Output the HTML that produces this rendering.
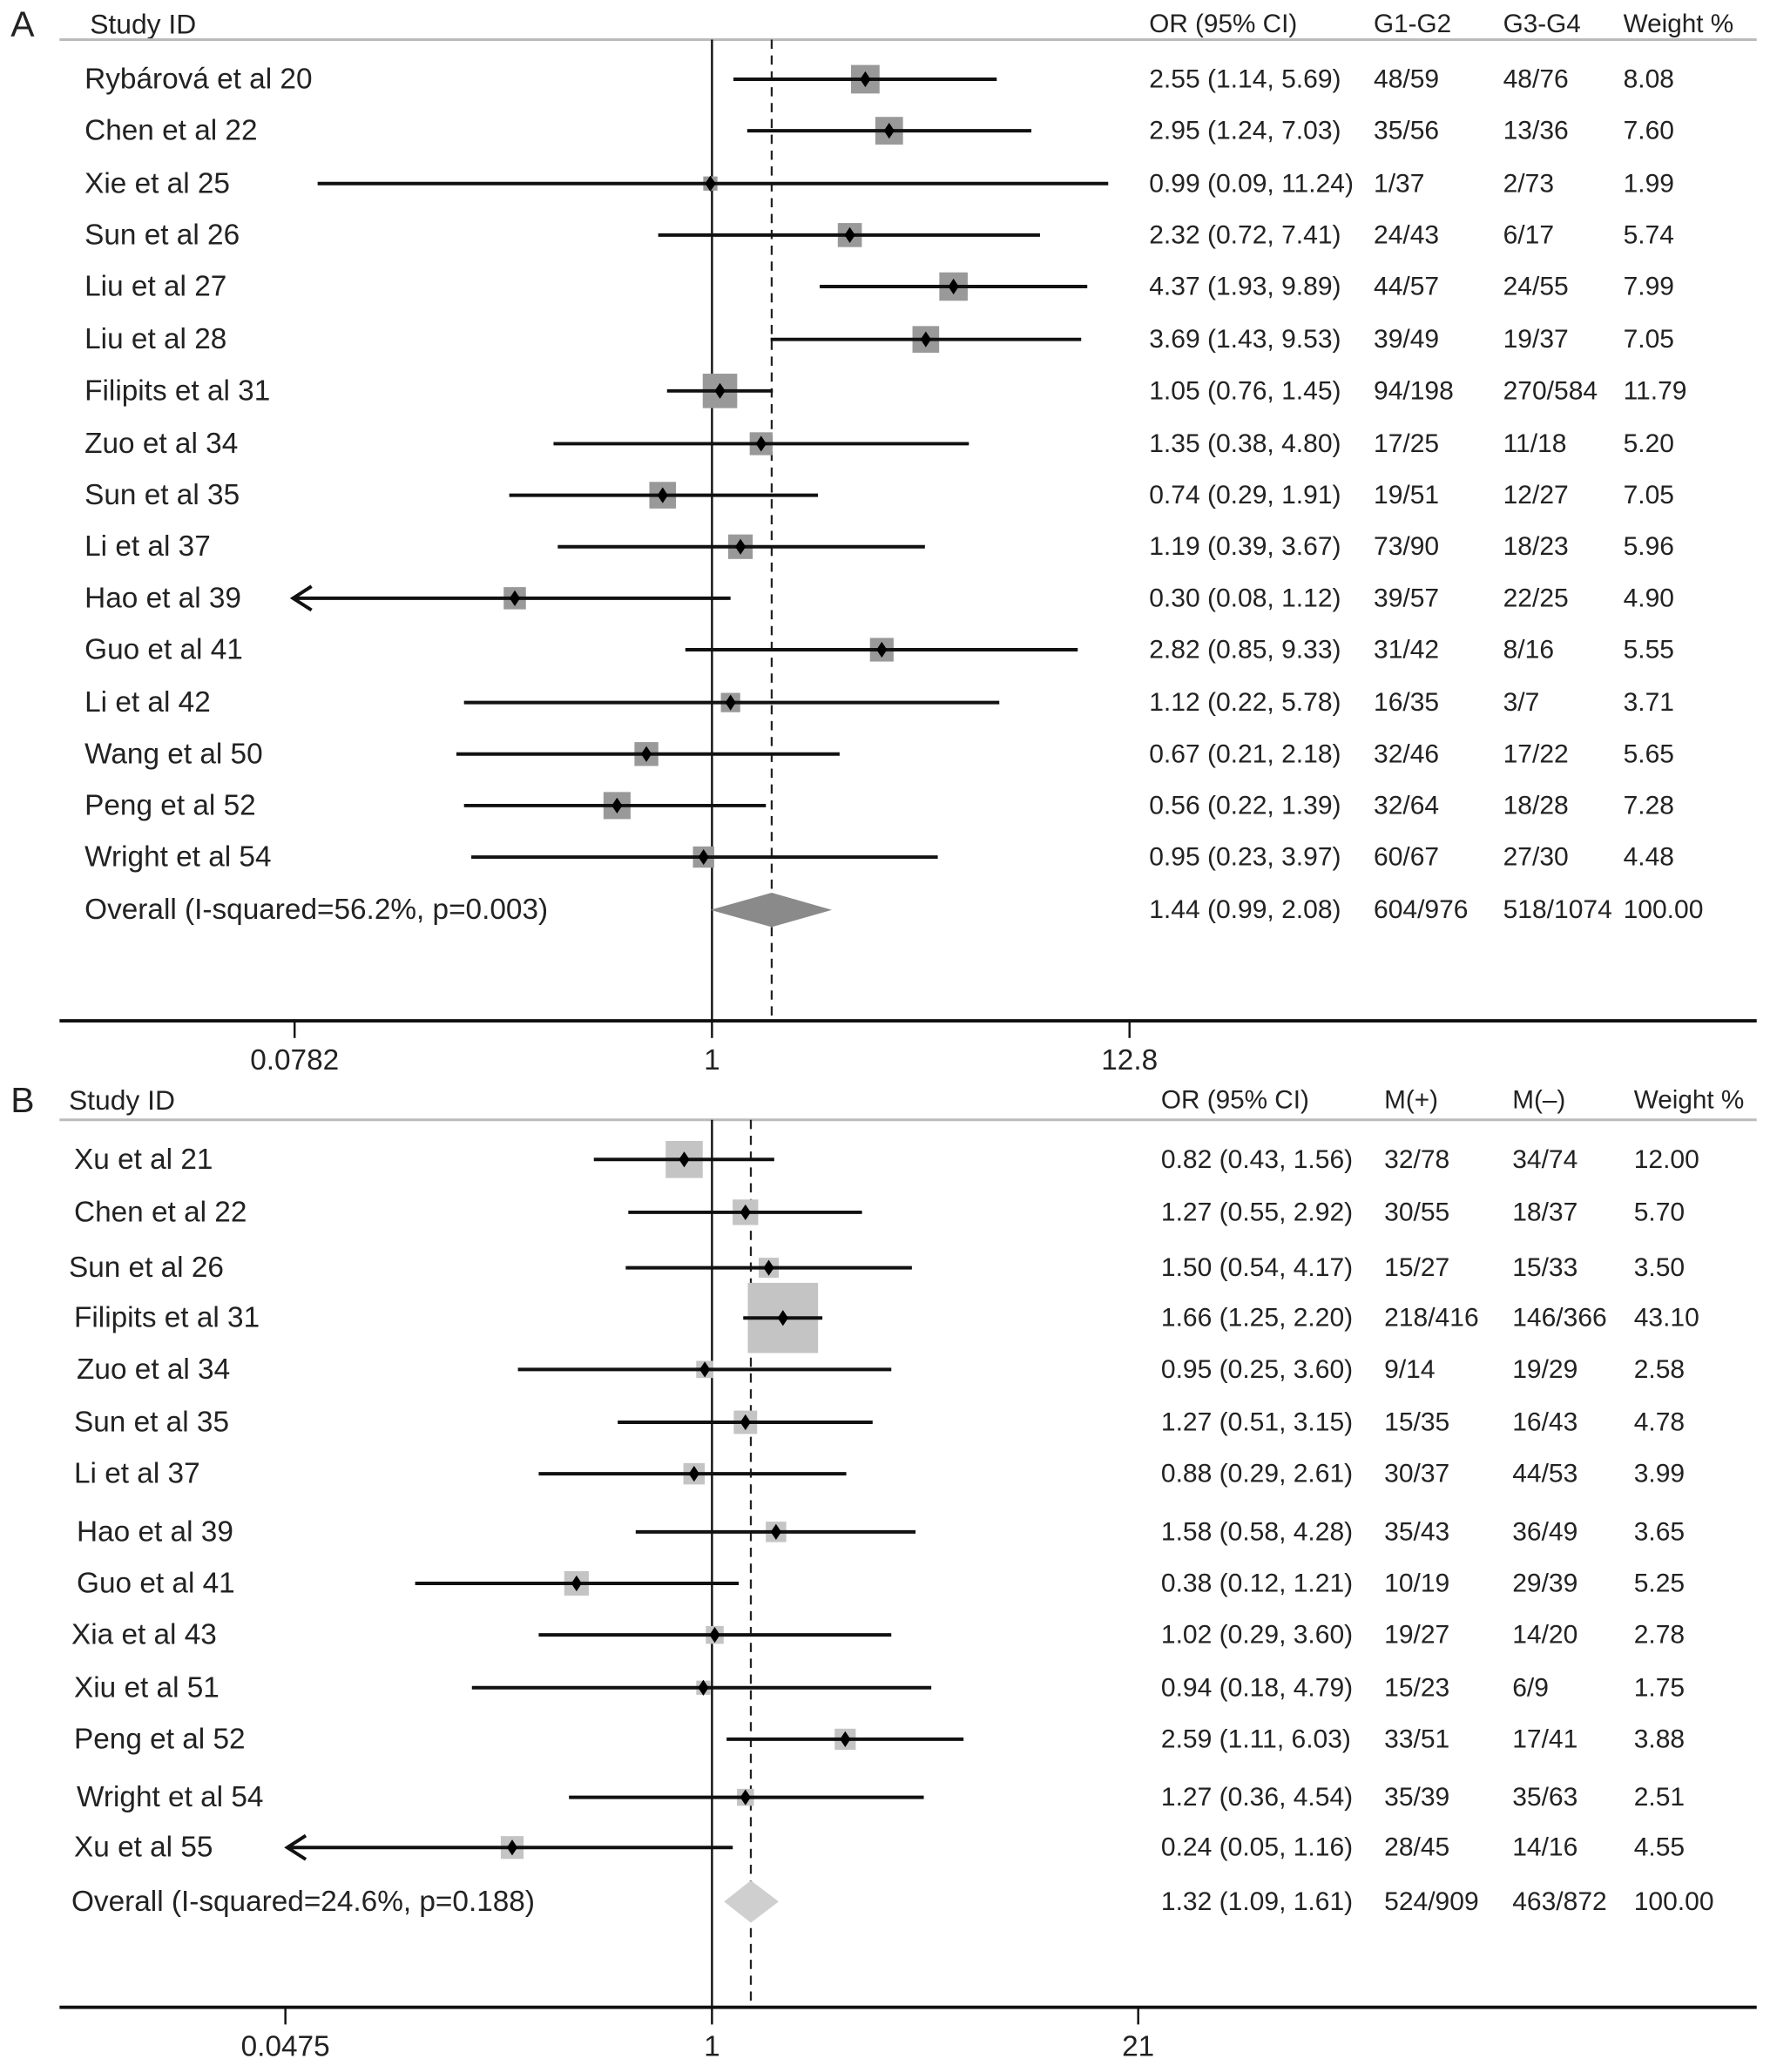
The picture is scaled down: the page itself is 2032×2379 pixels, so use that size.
<!DOCTYPE html>
<html><head><meta charset="utf-8"><style>
html,body{margin:0;padding:0;background:#fff;}
svg{display:block;font-family:"Liberation Sans",Arial,sans-serif;}
</style></head><body>
<svg id="chart" width="2032" height="2379" viewBox="0 0 1340 1569" xmlns="http://www.w3.org/2000/svg"></svg>
<script>
// Panel A data
const aStudies=["Rybárová et al 20","Chen et al 22","Xie et al 25","Sun et al 26","Liu et al 27","Liu et al 28","Filipits et al 31","Zuo et al 34","Sun et al 35","Li et al 37","Hao et al 39","Guo et al 41","Li et al 42","Wang et al 50","Peng et al 52","Wright et al 54"];
const aOR=[2.55,2.95,0.99,2.32,4.37,3.69,1.05,1.35,0.74,1.19,0.30,2.82,1.12,0.67,0.56,0.95];
const aLo=[1.14,1.24,0.09,0.72,1.93,1.43,0.76,0.38,0.29,0.39,0.08,0.85,0.22,0.21,0.22,0.23];
const aHi=[5.69,7.03,11.24,7.41,9.89,9.53,1.45,4.80,1.91,3.67,1.12,9.33,5.78,2.18,1.39,3.97];
const aArrow=[0,0,0,0,0,0,0,0,0,0,1,0,0,0,0,0];
const aG12=["48/59","35/56","1/37","24/43","44/57","39/49","94/198","17/25","19/51","73/90","39/57","31/42","16/35","32/46","32/64","60/67"];
const aG34=["48/76","13/36","2/73","6/17","24/55","19/37","270/584","11/18","12/27","18/23","22/25","8/16","3/7","17/22","18/28","27/30"];
const aW=[8.08,7.60,1.99,5.74,7.99,7.05,11.79,5.20,7.05,5.96,4.90,5.55,3.71,5.65,7.28,4.48];
const aOverall=[1.44,0.99,2.08];
const aOverallText=["Overall (I-squared=56.2%, p=0.003)","1.44 (0.99, 2.08)","604/976","518/1074","100.00"];
const aTicks=[0.0782,1,12.8];
const aTickLabels=["0.0782","1","12.8"];
// Panel B data
const bStudies=["Xu et al 21","Chen et al 22","Sun et al 26","Filipits et al 31","Zuo et al 34","Sun et al 35","Li et al 37","Hao et al 39","Guo et al 41","Xia et al 43","Xiu et al 51","Peng et al 52","Wright et al 54","Xu et al 55"];
const bOR=[0.82,1.27,1.50,1.66,0.95,1.27,0.88,1.58,0.38,1.02,0.94,2.59,1.27,0.24];
const bLo=[0.43,0.55,0.54,1.25,0.25,0.51,0.29,0.58,0.12,0.29,0.18,1.11,0.36,0.05];
const bHi=[1.56,2.92,4.17,2.20,3.60,3.15,2.61,4.28,1.21,3.60,4.79,6.03,4.54,1.16];
const bArrow=[0,0,0,0,0,0,0,0,0,0,0,0,0,1];
const bMp=["32/78","30/55","15/27","218/416","9/14","15/35","30/37","35/43","10/19","19/27","15/23","33/51","35/39","28/45"];
const bMm=["34/74","18/37","15/33","146/366","19/29","16/43","44/53","36/49","29/39","14/20","6/9","17/41","35/63","14/16"];
const bW=[12.00,5.70,3.50,43.10,2.58,4.78,3.99,3.65,5.25,2.78,1.75,3.88,2.51,4.55];
const bOverall=[1.32,1.09,1.61];
const bOverallText=["Overall (I-squared=24.6%, p=0.188)","1.32 (1.09, 1.61)","524/909","463/872","100.00"];
const bTicks=[0.0475,1,21];
const bTickLabels=["0.0475","1","21"];

const NS="http://www.w3.org/2000/svg";
const svg=document.getElementById('chart');
function mk(tag,attrs,parent){const e=document.createElementNS(NS,tag);for(const k in attrs)e.setAttribute(k,attrs[k]);(parent||svg).appendChild(e);return e;}
function txt(s,x,y,size,name,parent,anchor){const t=mk('text',{x:x,y:y,'font-size':size,fill:'#222','dominant-baseline':'central','text-anchor':anchor||'start'},parent);t.textContent=s;


return t;}

function panel(cfg){
  const g=mk('g',{});
  
  
  const X=v=>cfg.x1+cfg.pxPerLn*Math.log(v);
  txt(cfg.letter,8,cfg.headY,27,'panel-label',g);
  txt("Study ID",cfg.labelX0,cfg.headY,21,'study-id-header',g);
  cfg.cols.forEach((c,i)=>txt(c,cfg.colX[i],cfg.headY,19.6,'column-header',g));
  const hl=mk('line',{x1:45,x2:1330,y1:cfg.lineY,y2:cfg.lineY,stroke:'#bbb','stroke-width':2},g);
  
  
  const nl=mk('line',{x1:X(1),x2:X(1),y1:cfg.lineY,y2:cfg.axisY,stroke:'#111','stroke-width':1.6},g);
  
  
  const dl=mk('line',{x1:X(cfg.overall[0]),x2:X(cfg.overall[0]),y1:cfg.lineY,y2:cfg.axisY,stroke:'#222','stroke-width':1.5,'stroke-dasharray':'7,5'},g);
  
  
  cfg.studies.forEach((s,i)=>{
    const y=cfg.rowY[i];
    txt(s,cfg.labelX[i],y,22,'study-label',g);
    const side=cfg.k*Math.sqrt(cfg.w[i]);
    const b=mk('rect',{x:X(cfg.or[i])-side/2,y:y-side/2,width:side,height:side,fill:cfg.boxFill},g);
    
    
    const lo=cfg.arrow[i]?X(cfg.lo[i])-4:X(cfg.lo[i]);
    const ci=mk('line',{x1:lo,x2:X(cfg.hi[i]),y1:y,y2:y,stroke:'#111','stroke-width':2.6},g);
    
    
    if(cfg.arrow[i]){
      const a=mk('polyline',{points:`${lo+14},${y-9} ${lo},${y} ${lo+14},${y+9}`,fill:'none',stroke:'#111','stroke-width':2.6},g);
      
      
    }
    const p=X(cfg.or[i]);
    const d=mk('polygon',{points:`${p},${y-6} ${p+4},${y} ${p},${y+6} ${p-4},${y}`,fill:'#000'},g);
    
    
    const orTxt=cfg.or[i].toFixed(2)+" ("+cfg.lo[i].toFixed(2)+", "+cfg.hi[i].toFixed(2)+")";
    txt(orTxt,cfg.colX[0],y,19.8,'or-ci-value',g);
    txt(cfg.c1[i],cfg.colX[1],y,19.8,'count-value',g);
    txt(cfg.c2[i],cfg.colX[2],y,19.8,'count-value',g);
    txt(cfg.w[i].toFixed(2),cfg.colX[3],y,19.8,'weight-value',g);
  });
  const oy=cfg.overallY;
  txt(cfg.overallText[0],cfg.labelX[0]+(cfg.id==='a'?0:-2),oy,22,'overall-label',g);
  const o=cfg.overall;
  const dm=mk('polygon',{points:`${X(o[1])},${oy} ${X(o[0])},${oy-cfg.dh} ${X(o[2])},${oy} ${X(o[0])},${oy+cfg.dh}`,fill:cfg.diamondFill},g);
  
  
  for(let j=1;j<5;j++)txt(cfg.overallText[j],cfg.colX[j-1],oy,19.8,'overall-value',g);
  const ax=mk('line',{x1:45,x2:1330,y1:cfg.axisY,y2:cfg.axisY,stroke:'#111','stroke-width':2.6},g);
  
  
  cfg.ticks.forEach((t,i)=>{
    const tl=mk('line',{x1:X(t),x2:X(t),y1:cfg.axisY,y2:cfg.axisY+13,stroke:'#111','stroke-width':1.6},g);
    
    
    txt(cfg.tickLabels[i],X(t),cfg.axisY+30,22,'x-tick-label',g,'middle');
  });
}
panel({id:'a',letter:'A',headY:18,lineY:30,axisY:773,x1:539,pxPerLn:124,labelX0:68,
  labelX:aStudies.map(()=>64),cols:["OR (95% CI)","G1-G2","G3-G4","Weight %"],colX:[870,1040,1138,1229],
  rowY:[60,99,139,178,217,257,296,336,375,414,453,492,532,571,610,649],overallY:689,
  studies:aStudies,or:aOR,lo:aLo,hi:aHi,arrow:aArrow,c1:aG12,c2:aG34,w:aW,overall:aOverall,overallText:aOverallText,
  ticks:aTicks,tickLabels:aTickLabels,k:7.6,boxFill:'#999',diamondFill:'#8a8a8a',dh:13});
panel({id:'b',letter:'B',headY:833,lineY:848,axisY:1520,x1:539,pxPerLn:106,labelX0:52,
  labelX:[56,56,52,56,58,56,56,58,58,54,56,56,58,56],cols:["OR (95% CI)","M(+)","M(\u2013)","Weight %"],colX:[879,1048,1145,1237],
  rowY:[878,918,960,998,1037,1077,1116,1160,1199,1238,1278,1317,1361,1399],overallY:1440,
  studies:bStudies,or:bOR,lo:bLo,hi:bHi,arrow:bArrow,c1:bMp,c2:bMm,w:bW,overall:bOverall,overallText:bOverallText,
  ticks:bTicks,tickLabels:bTickLabels,k:8.1,boxFill:'#c4c4c4',diamondFill:'#cfcfcf',dh:16});
</script>
</body></html>
